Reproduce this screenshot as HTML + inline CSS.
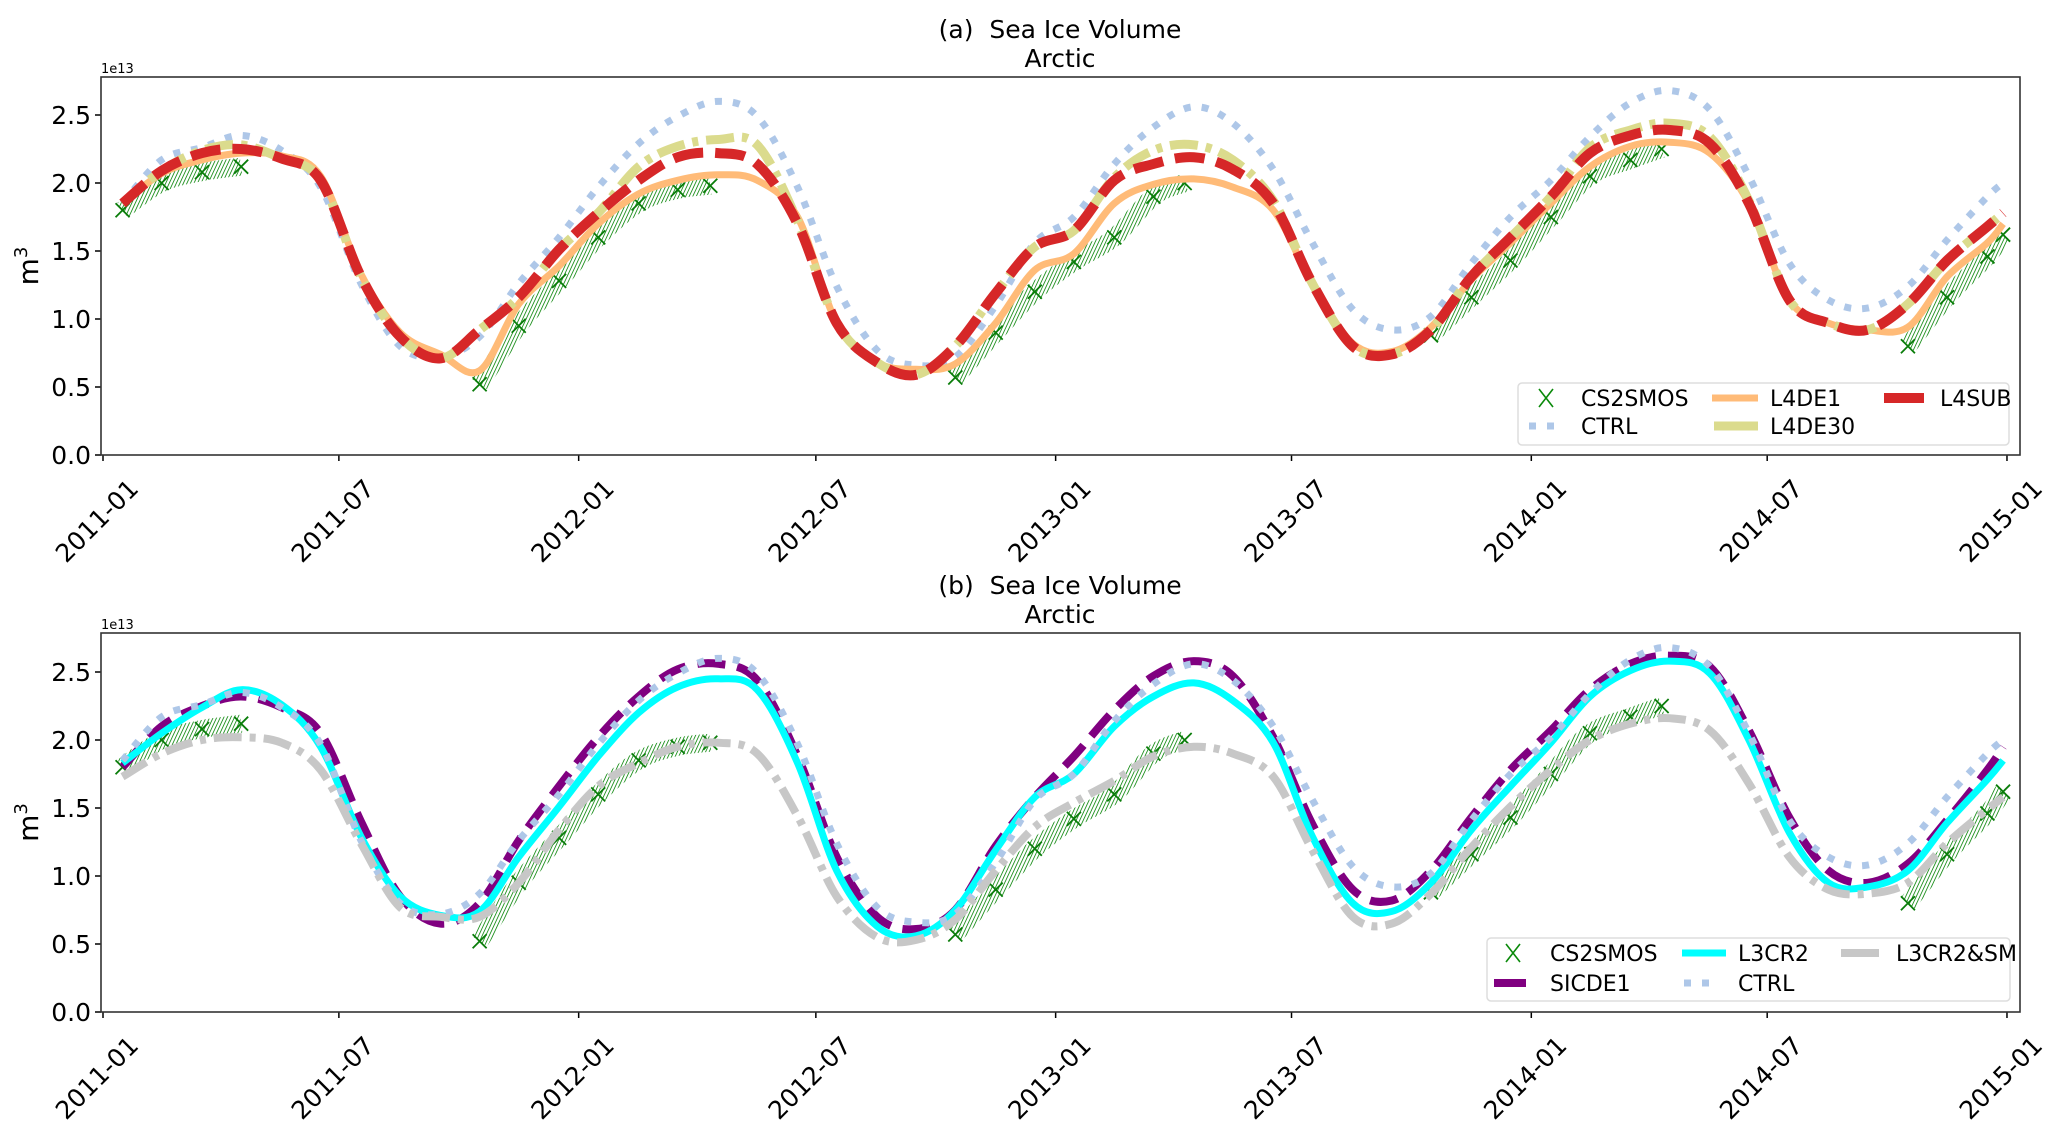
<!DOCTYPE html>
<html><head><meta charset="utf-8"><style>
html,body{margin:0;padding:0;background:#fff;}
svg{display:block;font-family:"DejaVu Sans","Liberation Sans",sans-serif;}
text{white-space:pre;}
</style></head><body>
<svg id="chart" width="2067" height="1131" viewBox="0 0 2067 1131" xmlns="http://www.w3.org/2000/svg">
<defs>
<pattern id="hatch" width="3.2" height="3.2" patternUnits="userSpaceOnUse" patternTransform="rotate(25)">
<line x1="0" y1="0" x2="0" y2="3.2" stroke="#138a13" stroke-width="1.7"/>
</pattern>
</defs>
</svg>
<script>
// time axis: day offsets since 2011-01-01 (mid-month samples)
const monthDays = [15,45,76,106,137,167,198,228,259,289,319,350,380,411,441,472,502,533,563,594,624,654,685,715,745,776,806,837,867,898,928,959,989,1019,1050,1080,1111,1141,1172,1202,1233,1263,1294,1324,1354,1385,1415,1446,1458];
const xTickDays = [0,181,365,547,731,912,1096,1277,1461];
const xTickLabels = ["2011-01","2011-07","2012-01","2012-07","2013-01","2013-07","2014-01","2014-07","2015-01"];
const yTicks = [0,0.5,1.0,1.5,2.0,2.5];
const yTickLabels = ["0.0","0.5","1.0","1.5","2.0","2.5"];

// CS2SMOS observation seasons (day, value)
const obsDays = [[15,45,76,106],[289,319,350,380,411,441,466],[654,685,715,745,776,806,830],[1019,1050,1080,1111,1141,1172,1196],[1385,1415,1446,1458]];
const obsVals = [[1.80,2.00,2.08,2.12],[0.52,0.95,1.28,1.60,1.85,1.95,1.98],[0.57,0.90,1.20,1.42,1.60,1.90,2.00],[0.88,1.16,1.43,1.75,2.05,2.17,2.25],[0.80,1.16,1.46,1.62]];

const ctrl = [1.85,2.17,2.26,2.35,2.24,1.97,1.26,0.80,0.72,0.87,1.26,1.60,1.97,2.29,2.49,2.60,2.49,1.97,1.24,0.77,0.66,0.72,1.10,1.56,1.75,2.14,2.41,2.56,2.44,2.10,1.56,1.07,0.92,1.02,1.41,1.75,2.02,2.34,2.59,2.68,2.54,2.05,1.41,1.14,1.08,1.24,1.58,1.90,2.00];
const l4sub = [1.85,2.09,2.22,2.25,2.18,2.02,1.31,0.87,0.71,0.92,1.16,1.51,1.78,2.02,2.19,2.22,2.14,1.70,0.97,0.68,0.59,0.80,1.19,1.53,1.65,2.02,2.14,2.19,2.10,1.85,1.26,0.80,0.74,0.92,1.31,1.60,1.90,2.22,2.35,2.39,2.29,1.85,1.14,0.97,0.92,1.11,1.43,1.68,1.78];
const l4de30 = [1.85,2.09,2.24,2.28,2.18,2.02,1.31,0.87,0.71,0.92,1.16,1.51,1.78,2.12,2.27,2.32,2.28,1.72,0.97,0.68,0.59,0.80,1.19,1.53,1.65,2.04,2.24,2.28,2.17,1.87,1.26,0.80,0.74,0.92,1.31,1.60,1.90,2.26,2.39,2.44,2.34,1.87,1.14,0.97,0.92,1.11,1.43,1.68,1.78];
const l4de1 = [1.85,2.07,2.17,2.22,2.20,2.05,1.33,0.90,0.74,0.62,1.11,1.39,1.70,1.92,2.02,2.06,2.02,1.75,0.97,0.68,0.63,0.67,0.97,1.36,1.48,1.85,1.99,2.03,1.97,1.80,1.26,0.82,0.76,0.94,1.29,1.56,1.85,2.12,2.27,2.30,2.22,1.85,1.14,0.97,0.92,0.94,1.31,1.56,1.70];
const sicde1 = [1.80,2.10,2.25,2.32,2.24,2.05,1.40,0.85,0.65,0.80,1.26,1.66,2.02,2.32,2.52,2.56,2.44,1.88,1.14,0.70,0.61,0.75,1.22,1.58,1.88,2.22,2.47,2.58,2.47,2.02,1.38,0.90,0.82,1.04,1.43,1.78,2.07,2.37,2.56,2.62,2.54,2.07,1.43,1.04,0.95,1.09,1.41,1.78,1.95];
const l3cr2 = [1.83,2.05,2.24,2.37,2.26,1.95,1.29,0.85,0.71,0.74,1.14,1.51,1.88,2.20,2.39,2.45,2.37,1.83,1.04,0.63,0.56,0.75,1.19,1.58,1.75,2.10,2.32,2.42,2.29,1.98,1.29,0.80,0.74,0.95,1.34,1.66,1.98,2.32,2.51,2.58,2.49,2.00,1.32,0.95,0.92,1.04,1.39,1.71,1.85];
const l3cr2sm = [1.73,1.90,2.00,2.02,1.98,1.78,1.24,0.77,0.70,0.70,0.95,1.34,1.66,1.83,1.95,1.98,1.90,1.44,0.85,0.55,0.53,0.68,1.04,1.36,1.54,1.70,1.88,1.95,1.90,1.73,1.19,0.70,0.65,0.87,1.21,1.51,1.78,2.00,2.12,2.16,2.07,1.68,1.14,0.90,0.87,0.95,1.24,1.49,1.58];

const NS = "http://www.w3.org/2000/svg";
const svg = document.getElementById("chart");
const X0 = 101, X1 = 2020, PXDAY = 1.3032, XDAY0 = 103, PXUNIT = 136;
function xs(d){ return XDAY0 + d*PXDAY; }
function mk(tag, attrs, parent){ const e=document.createElementNS(NS,tag); for(const k in attrs) e.setAttribute(k,attrs[k]); (parent||svg).appendChild(e); return e; }
function smoothPath(pts){
  let d = "M"+pts[0][0].toFixed(1)+","+pts[0][1].toFixed(1);
  for(let i=0;i<pts.length-1;i++){
    const p0=pts[Math.max(0,i-1)], p1=pts[i], p2=pts[i+1], p3=pts[Math.min(pts.length-1,i+2)];
    const c1=[p1[0]+(p2[0]-p0[0])/6, p1[1]+(p2[1]-p0[1])/6];
    const c2=[p2[0]-(p3[0]-p1[0])/6, p2[1]-(p3[1]-p1[1])/6];
    d += " C"+c1[0].toFixed(1)+","+c1[1].toFixed(1)+" "+c2[0].toFixed(1)+","+c2[1].toFixed(1)+" "+p2[0].toFixed(1)+","+p2[1].toFixed(1);
  }
  return d;
}

function panel(cfg){
  const top=cfg.top, bot=cfg.bottom;
  const ys = v => bot - v*PXUNIT;
  const g = mk("g",{});
  
  
  let t = mk("text",{x:1060,y:top-39,"font-size":25,"text-anchor":"middle",fill:"#000"},g);
  t.textContent = cfg.title;
  
  
  t = mk("text",{x:1060,y:top-10,"font-size":25,"text-anchor":"middle",fill:"#000"},g);
  t.textContent = "Arctic";
  
  
  t = mk("text",{x:101,y:top-4,"font-size":13,fill:"#000"},g);
  t.textContent = "1e13";
  
  
  t = mk("text",{x:0,y:0,"font-size":28,"text-anchor":"middle",fill:"#000",transform:"translate(38,"+((top+bot)/2)+") rotate(-90)"},g);
  t.textContent = "m";
  const sup = mk("tspan",{"font-size":18,dy:-11},t);
  sup.textContent = "3";
  
  
  yTicks.forEach((v,i)=>{
    const y=ys(v);
    const l = mk("line",{x1:X0-6,x2:X0,y1:y,y2:y,stroke:"#000","stroke-width":1.5},g);
    
    
    const tx = mk("text",{x:X0-10,y:y+9,"font-size":25,"text-anchor":"end",fill:"#000"},g);
    tx.textContent = yTickLabels[i];
    
    
  });
  xTickDays.forEach((d,i)=>{
    const x=xs(d);
    const l = mk("line",{x1:x,x2:x,y1:bot,y2:bot+6,stroke:"#000","stroke-width":1.5},g);
    
    
    const tx = mk("text",{x:0,y:0,"font-size":25,"text-anchor":"middle",fill:"#000",transform:"translate("+x+","+(bot+72)+") rotate(-45)"},g);
    tx.textContent = xTickLabels[i];
    
    
  });
  const cid = "clip"+cfg.id;
  const cp = mk("clipPath",{id:cid},g);
  mk("rect",{x:X0,y:top,width:X1-X0,height:bot-top},cp);
  const plot = mk("g",{"clip-path":"url(#"+cid+")"},g);
  
  
  cfg.series.forEach(s=>{
    if(s.obs){
      obsDays.forEach((ds,k)=>{
        const pts = ds.map((d,j)=>[xs(d), ys(obsVals[k][j])]);
        const p = mk("path",{d:smoothPath(pts),fill:"none",stroke:"url(#hatch)","stroke-width":18,"stroke-linecap":"butt"},plot);
        
        
        pts.forEach(pt=>{
          const m = mk("path",{d:"M"+(pt[0]-7)+","+(pt[1]-7)+"L"+(pt[0]+7)+","+(pt[1]+7)+"M"+(pt[0]-7)+","+(pt[1]+7)+"L"+(pt[0]+7)+","+(pt[1]-7),stroke:"#0a7d0a","stroke-width":1.8,fill:"none"},plot);
          
          
        });
      });
    } else {
      const pts = monthDays.map((d,j)=>[xs(d), ys(s.data[j])]);
      const p = mk("path",{d:smoothPath(pts),fill:"none",stroke:s.color,"stroke-width":s.w,"stroke-dasharray":s.dash||"none","stroke-linecap":"butt","stroke-linejoin":"round"},plot);
      
      
    }
  });
  const frame = mk("rect",{x:X0,y:top,width:X1-X0,height:bot-top,fill:"none",stroke:"#333","stroke-width":1.6},g);
  
  
  const L = cfg.legend;
  const lg = mk("g",{},g);
  
  
  mk("rect",{x:L.x,y:L.y,width:L.w,height:L.h,rx:4,fill:"#fff","fill-opacity":0.85,stroke:"#ddd","stroke-width":1.5},lg);
  L.items.forEach(it=>{
    const e = mk("g",{},lg);
    
    
    if(it.obs){
      mk("path",{d:"M"+(it.hx-7)+","+(it.y-9)+"L"+(it.hx+7)+","+(it.y+9)+"M"+(it.hx-7)+","+(it.y+9)+"L"+(it.hx+7)+","+(it.y-9),stroke:"#0a8a0a","stroke-width":1.6},e);
    } else {
      mk("line",{x1:it.hx,x2:it.hx+it.hw,y1:it.y,y2:it.y,stroke:it.color,"stroke-width":it.w,"stroke-dasharray":it.dash||"none"},e);
    }
    const tx = mk("text",{x:it.tx,y:it.y+8,"font-size":22,fill:"#000"},e);
    tx.textContent = it.label;
  });
}

const C = {ctrl:"#aec7e8", sub:"#d62728", de30:"#dbdb8d", de1:"#ffbb78", sic:"#800080", cr2:"#00ffff", sm:"#c7c7c7"};
panel({id:"a",name:"panel-a",title:"(a)  Sea Ice Volume",top:77,bottom:455,
  series:[{obs:true},{key:"ctrl",data:ctrl,color:C.ctrl,w:7,dash:"7 11"},{key:"l4de1",data:l4de1,color:C.de1,w:7},{key:"l4de30",data:l4de30,color:C.de30,w:9,dash:"28 8 6 8"},{key:"l4sub",data:l4sub,color:C.sub,w:10,dash:"30 12"}],
  legend:{x:1518,y:383,w:491,h:62,items:[
    {obs:true,hx:1546,y:398,tx:1581,label:"CS2SMOS"},
    {hx:1529,hw:34,y:426,color:C.ctrl,w:7,dash:"7 11",tx:1581,label:"CTRL"},
    {hx:1712,hw:46,y:398,color:C.de1,w:7,tx:1770,label:"L4DE1"},
    {hx:1714,hw:44,y:426,color:C.de30,w:9,tx:1770,label:"L4DE30"},
    {hx:1884,hw:40,y:398,color:C.sub,w:10,tx:1940,label:"L4SUB"}]}
});
panel({id:"b",name:"panel-b",title:"(b)  Sea Ice Volume",top:633,bottom:1012,
  series:[{obs:true},{key:"sicde1",data:sicde1,color:C.sic,w:8,dash:"28 12"},{key:"l3cr2",data:l3cr2,color:C.cr2,w:7},{key:"ctrl",data:ctrl,color:C.ctrl,w:7,dash:"7 11"},{key:"l3cr2sm",data:l3cr2sm,color:C.sm,w:8,dash:"28 8 6 8"}],
  legend:{x:1487,y:938,w:523,h:63,items:[
    {obs:true,hx:1513,y:953,tx:1550,label:"CS2SMOS"},
    {hx:1494,hw:32,y:983,color:C.sic,w:8,tx:1550,label:"SICDE1"},
    {hx:1682,hw:44,y:953,color:C.cr2,w:7,tx:1738,label:"L3CR2"},
    {hx:1684,hw:34,y:983,color:C.ctrl,w:7,dash:"7 11",tx:1738,label:"CTRL"},
    {hx:1841,hw:38,y:953,color:C.sm,w:8,tx:1896,label:"L3CR2&SM"}]}
});
</script>
</body></html>
